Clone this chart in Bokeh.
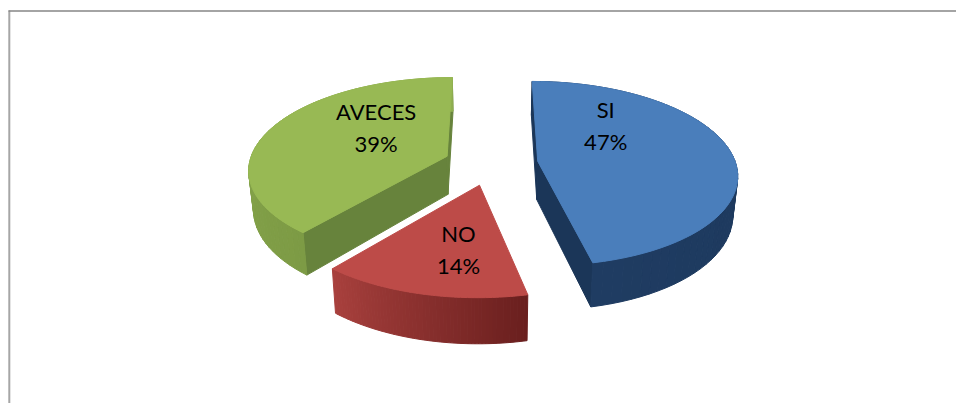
import numpy as np
from bokeh.plotting import figure
from bokeh.embed import file_html
from bokeh.resources import INLINE
from bokeh.core.properties import value

categories = ["SI", "NO", "AVECES"]
percents = [46.6, 14.4, 39.0]

top_colors = ["#4a7ebb", "#bd4b48", "#98b954"]
cut_colors = ["#1b3658", None, "#67833c"]
wall_from = ["#1b3658", "#6a1f1e", "#7d9b45"]
wall_to = ["#1f3c62", "#a8403d", "#8fae50"]

CX, CY, SX, SY, K, EXPL, DEPTH, SHRINK = 490.5, 163.0, 198.0, 91.0, 0.134, 0.238, 38.5, 0.98
label_offset = [(68, -36), (-21, 64), (-71, -29)]


def project(u, v):
    d = 1 + K * v
    return CX + SX * u / d, CY - SY * v / d


def bottom(x, y, u, v):
    return CX + (x - CX) * SHRINK, y + DEPTH / (1 + K * v)


def mix(a, b, t):
    ca = [int(a[i:i + 2], 16) for i in (1, 3, 5)]
    cb = [int(b[i:i + 2], 16) for i in (1, 3, 5)]
    return "#%02x%02x%02x" % tuple(round(p + (q - p) * t) for p, q in zip(ca, cb))


p = figure(width=956, height=403, x_range=(0, 956), y_range=(403, 0),
           output_backend="svg", toolbar_location=None, min_border=0)
p.axis.visible = False
p.grid.visible = False
p.outline_line_color = None
p.background_fill_color = "#ffffff"
p.border_fill_color = "#ffffff"

p.line([8.8, 8.8], [10, 403], line_color="#a6a6a6", line_width=2)
p.line([8, 956], [10.5, 10.5], line_color="#868686", line_width=1.5)

shares = np.array(percents, dtype=float) / sum(percents)
edges = np.concatenate([[0], np.cumsum(shares)]) * 2 * np.pi
order = [2, 0, 1]
for i in order:
    a0, a1 = edges[i], edges[i + 1]
    mid = (a0 + a1) / 2
    ou, ov = EXPL * np.sin(mid), EXPL * np.cos(mid)
    t = np.linspace(a0, a1, 61)
    u, v = ou + np.sin(t), ov + np.cos(t)
    ax, ay = project(ou, ov)
    x, y = project(u, v)
    bx, by = bottom(x, y, u, v)
    abx, aby = bottom(ax, ay, ou, ov)
    # straight cut faces
    for j in (0, -1):
        if cut_colors[i]:
            p.patch([ax, x[j], bx[j], abx], [ay, y[j], by[j], aby],
                    fill_color=cut_colors[i], line_color=cut_colors[i])
    # curved outer wall
    for j in range(len(t) - 1):
        c = mix(wall_from[i], wall_to[i], j / (len(t) - 2))
        p.patch([x[j], x[j + 1], bx[j + 1], bx[j]], [y[j], y[j + 1], by[j + 1], by[j]],
                fill_color=c, line_color=c)
    p.patch([ax, *x], [ay, *y], fill_color=top_colors[i], line_color=top_colors[i], line_width=1)
    lx, ly = ax + label_offset[i][0], ay + label_offset[i][1]
    p.text([lx, lx], [ly - 16, ly + 16], text=[categories[i], f"{round(percents[i])}%"],
           text_font=value("Lato"), text_font_size="22px", text_color="#000000",
           text_align="center", text_baseline="middle")

open("out.html", "w").write(file_html(p, INLINE))
